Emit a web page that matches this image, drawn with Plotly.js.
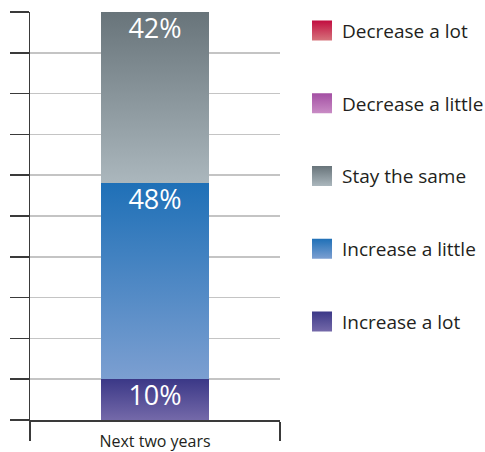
<!DOCTYPE html>
<html>
<head>
<meta charset="utf-8">
<script src="https://cdn.plot.ly/plotly-3.0.1.min.js"></script>
<style>
  html, body { margin: 0; padding: 0; background: #ffffff; }
  #chart { width: 485px; height: 452px; }
</style>
</head>
<body>
<div id="chart"></div>
<script>
// Expected change over the period, share of respondents (%)
const period = ['Next two years'];
const responses = ['Increase a lot', 'Increase a little', 'Stay the same', 'Decrease a little', 'Decrease a lot'];
const shares = [10, 48, 42, 0, 0];

// Vertical gradient (top colour, bottom colour) for each response
const gradientStops = {
  'Increase a lot':    ['#3b3887', '#7469a9'],
  'Increase a little': ['#1f70b7', '#7c9fd1'],
  'Stay the same':     ['#68747a', '#abb7bd'],
  'Decrease a little': ['#a34fa3', '#c98cc5'],
  'Decrease a lot':    ['#c20d40', '#d6747c']
};

const gradId = name => 'grad-' + name.toLowerCase().replace(/\s+/g, '-');

const traces = responses.map((name, i) => ({
  type: 'bar',
  name: name,
  x: period,
  y: [shares[i]],
  width: 0.43,
  marker: { color: gradientStops[name][0], line: { width: 0 } },
  text: [shares[i] > 0 ? shares[i] + '%' : ''],
  textposition: 'inside',
  insidetextanchor: 'end',
  textangle: 0,
  constraintext: 'none',
  textfont: { family: 'Open Sans, sans-serif', size: 27, color: '#ffffff' },
  legendgroup: name,
  legendrank: responses.length - i,
  hoverinfo: 'skip'
}));

const layout = {
  width: 485,
  height: 452,
  margin: { l: 30, r: 205, t: 12, b: 32 },
  paper_bgcolor: '#ffffff',
  plot_bgcolor: '#ffffff',
  barmode: 'stack',
  hovermode: false,
  showlegend: true,
  legend: {
    xref: 'container', yref: 'container',
    x: 0.6227, xanchor: 'left',
    y: 0.974, yanchor: 'top',
    maxheight: 450,
    traceorder: 'grouped',
    tracegroupgap: 45,
    font: { family: 'Open Sans, sans-serif', size: 19, color: '#231f20' },
    bgcolor: 'rgba(0,0,0,0)'
  },
  xaxis: {
    type: 'category',
    range: [-0.5, 0.5],
    tickson: 'boundaries',
    ticks: 'outside',
    ticklen: 19,
    tickwidth: 1.5,
    tickcolor: '#3a3a3a',
    ticklabelstandoff: 6,
    tickfont: { family: 'Open Sans, sans-serif', size: 16, color: '#231f20' },
    showgrid: false,
    showline: true,
    linecolor: '#3a3a3a',
    linewidth: 1.5,
    zeroline: false,
    fixedrange: true
  },
  yaxis: {
    range: [0, 100],
    dtick: 10,
    tick0: 0,
    ticks: 'outside',
    ticklen: 19,
    tickwidth: 1.5,
    tickcolor: '#3a3a3a',
    showticklabels: false,
    showgrid: true,
    gridcolor: '#c4c4c4',
    gridwidth: 1.5,
    showline: true,
    linecolor: '#3a3a3a',
    linewidth: 1.5,
    zeroline: false,
    fixedrange: true
  }
};

// Paint bars and legend swatches with vertical gradients
function applyGradients(gd) {
  const svg = gd.querySelector('svg.main-svg');
  if (!svg) return;
  const NS = 'http://www.w3.org/2000/svg';
  let defs = svg.querySelector('defs');
  if (!defs) { defs = document.createElementNS(NS, 'defs'); svg.insertBefore(defs, svg.firstChild); }
  responses.forEach(name => {
    if (defs.querySelector('#' + gradId(name))) return;
    const g = document.createElementNS(NS, 'linearGradient');
    g.setAttribute('id', gradId(name));
    g.setAttribute('x1', '0'); g.setAttribute('y1', '0');
    g.setAttribute('x2', '0'); g.setAttribute('y2', '1');
    gradientStops[name].forEach((c, k) => {
      const s = document.createElementNS(NS, 'stop');
      s.setAttribute('offset', k === 0 ? '0' : '1');
      s.setAttribute('stop-color', c);
      g.appendChild(s);
    });
    defs.appendChild(g);
  });

  gd.querySelectorAll('.barlayer .trace').forEach((tr, i) => {
    const name = responses[i];
    tr.querySelectorAll('.point path').forEach(p => { p.style.fill = 'url(#' + gradId(name) + ')'; });
    // nudge the value labels a little closer to the top of each segment
    tr.querySelectorAll('.point text').forEach(t => {
      const base = t.getAttribute('transform') || '';
      if (t.dataset.base !== base) {
        t.dataset.base = base + ' translate(0,-6)';
        t.setAttribute('transform', t.dataset.base);
      }
    });
  });

  gd.querySelectorAll('.legend .traces').forEach(item => {
    const label = item.querySelector('.legendtext');
    if (!label) return;
    const name = label.textContent;
    item.querySelectorAll('.legendpoints path').forEach(p => {
      p.setAttribute('d', 'M10,10H-10V-10H10Z');
      p.style.fill = 'url(#' + gradId(name) + ')';
      p.style.stroke = 'none';
    });
  });
}

const gd = document.getElementById('chart');
Plotly.newPlot(gd, traces, layout, { staticPlot: true, displayModeBar: false }).then(() => {
  applyGradients(gd);
  gd.on('plotly_afterplot', () => applyGradients(gd));
});
</script>
</body>
</html>
